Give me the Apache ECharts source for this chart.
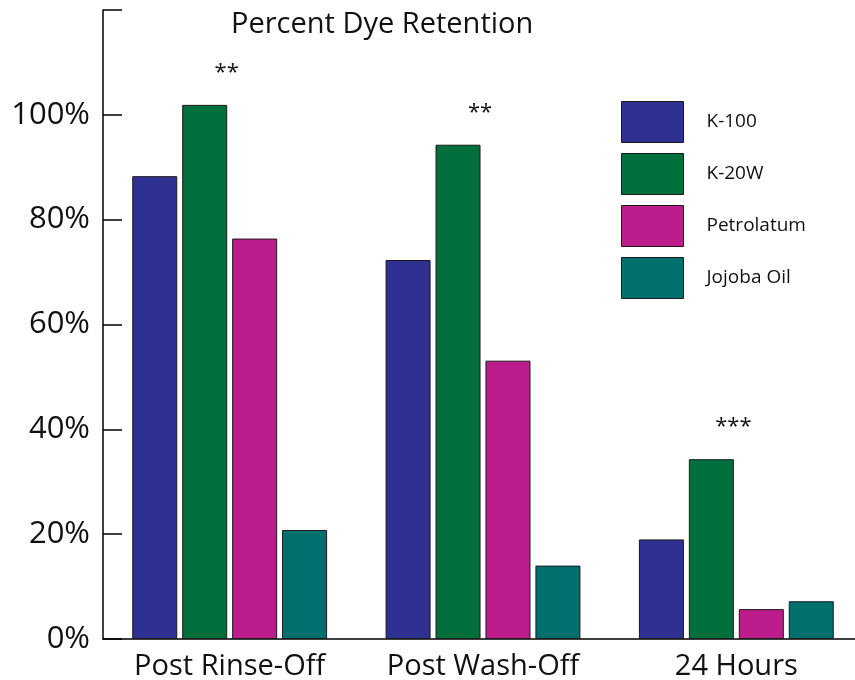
<!doctype html>
<html lang="en">
<head>
    <meta charset="UTF-8">
    <title>Percent Dye Retention</title>
    <style>
        html, body { margin: 0; padding: 0; background: #fff; }
    </style>
</head>
<body>
<div id="myChart" style="width: 855px;height: 680px"></div>
<script src="https://cdn.jsdelivr.net/npm/echarts@6/dist/echarts.min.js"></script>
<script>
    var categories = ['Post Rinse-Off', 'Post Wash-Off', '24 Hours'];
    var k100 = [88.3, 72.3, 19.0];
    var k20w = [101.9, 94.3, 34.3];
    var petrolatum = [76.4, 53.1, 5.7];
    var jojoba = [20.8, 14.0, 7.2];
    var stars = ['**', '**', '***'];
    var yTicks = [0, 20, 40, 60, 80, 100];

    var font = 'Open Sans';
    var myChart = echarts.init(document.getElementById('myChart'));

    var barStyle = function (color) {
        return {color: color, borderColor: '#1a1a1a', borderWidth: 1};
    };

    var option = {
        backgroundColor: '#fff',
        animation: false,
        textStyle: {fontFamily: font, color: '#111'},
        title: {
            text: 'Percent Dye Retention',
            left: 226,
            top: 5,
            textStyle: {fontFamily: font, fontSize: 29, fontWeight: 'normal', color: '#111'}
        },
        legend: {
            orient: 'vertical',
            left: 621,
            top: 101,
            padding: 0,
            itemWidth: 62,
            itemHeight: 41,
            itemGap: 10,
            icon: 'rect',
            itemStyle: {borderColor: '#1a1a1a', borderWidth: 1},
            textStyle: {fontFamily: font, fontSize: 19, color: '#111', padding: [0, 0, 0, 18]},
            data: ['K-100', 'K-20W', 'Petrolatum', 'Jojoba Oil']
        },
        grid: {
            left: 103,
            top: 10,
            bottom: 41,
            width: 760,
            containLabel: false,
            outerBoundsMode: 'none'
        },
        xAxis: {
            type: 'category',
            data: categories,
            axisLine: {lineStyle: {color: '#000', width: 1.5}},
            axisTick: {inside: true, length: 15, lineStyle: {color: '#000', width: 1.5}},
            axisLabel: {fontFamily: font, fontSize: 29, color: '#111', margin: 13}
        },
        yAxis: {
            type: 'value',
            min: 0,
            max: 120,
            interval: 20,
            axisLine: {show: true, lineStyle: {color: '#000', width: 1.5}},
            axisTick: {show: true, inside: true, length: 19, lineStyle: {color: '#000', width: 1.5}},
            splitLine: {show: false},
            axisLabel: {
                fontFamily: font,
                fontSize: 31,
                color: '#111',
                margin: 13,
                formatter: function (v) {
                    return yTicks.indexOf(v) >= 0 ? v + '%' : '';
                }
            }
        },
        series: [
            {
                name: 'K-100', type: 'bar', barWidth: 45, barGap: '11%',
                itemStyle: barStyle('#2E3192'), data: k100
            },
            {
                name: 'K-20W', type: 'bar', barWidth: 45, barGap: '11%',
                itemStyle: barStyle('#006F3C'), data: k20w,
                label: {
                    show: true,
                    position: 'top',
                    distance: 5,
                    offset: [22, -16],
                    fontFamily: font,
                    fontSize: 22,
                    color: '#111',
                    formatter: function (p) {
                        return stars[p.dataIndex];
                    }
                }
            },
            {
                name: 'Petrolatum', type: 'bar', barWidth: 45, barGap: '11%',
                itemStyle: barStyle('#BC1C8C'), data: petrolatum
            },
            {
                name: 'Jojoba Oil', type: 'bar', barWidth: 45, barGap: '11%',
                itemStyle: barStyle('#00706F'), data: jojoba
            }
        ]
    };

    myChart.setOption(option);
</script>
</body>
</html>
